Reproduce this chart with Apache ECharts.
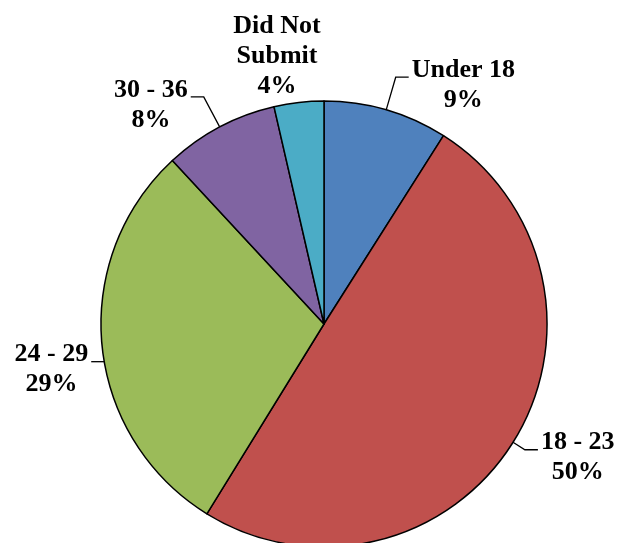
<!DOCTYPE html>
<html>
<head>
<meta charset="utf-8">
<script src="https://cdn.jsdelivr.net/npm/echarts@6/dist/echarts.min.js"></script>
<style>
html, body { margin: 0; padding: 0; background: #fff; }
#main { width: 623px; height: 543px; }
</style>
</head>
<body>
<div id="main"></div>
<script>
// age groups and their shares
var categories = ['Under 18', '18 - 23', '24 - 29', '30 - 36', 'Did Not\nSubmit'];
var values = [9.0, 49.8, 29.3, 8.3, 3.6];
var colors = ['#4F81BD', '#C0504D', '#9BBB59', '#8064A2', '#4BACC6'];

var myChart = echarts.init(document.getElementById('main'));

var CX = 324, CY = 324, R = 223;

// leader line first-segment length per slice (Excel draws them unevenly)
var leadLen = [34, 14, 0, 34, 0];

var data = categories.map(function (c, i) {
    var item = {
        name: c,
        value: values[i],
        itemStyle: { color: colors[i] },
        labelLine: { length: leadLen[i] }
    };
    if (i === 4) {
        item.labelLine = { show: false };
    }
    return item;
});

var option = {
    animation: false,
    series: [{
        type: 'pie',
        center: [CX, CY],
        radius: R,
        startAngle: 90,
        clockwise: true,
        avoidLabelOverlap: false,
        itemStyle: { borderColor: '#000', borderWidth: 1.5 },
        label: {
            show: true,
            position: 'outside',
            formatter: function (p) {
                return p.name + '\n' + Math.round(p.percent) + '%';
            },
            color: '#000',
            fontFamily: '"Liberation Serif", "Times New Roman", serif',
            fontWeight: 'bold',
            fontSize: 26,
            lineHeight: 30
        },
        labelLine: {
            show: true,
            length: 20,
            length2: 13,
            lineStyle: { color: '#000', width: 1.3 }
        },
        // centre the two-line labels next to the end of their leader lines
        labelLayout: function (p) {
            var w = p.labelRect.width, h = p.labelRect.height;
            if (p.dataIndex === 4) {
                return {
                    x: p.rect.x + p.rect.width / 2 - 22,
                    y: p.rect.y - h / 2 + 1,
                    align: 'center',
                    verticalAlign: 'middle'
                };
            }
            var pts = p.labelLinePoints;
            if (p.dataIndex === 2) {
                // the 24 - 29 leader sits a bit lower, flat onto the rim
                var ly = pts[0][1] + 16;
                var ex = CX - Math.sqrt(R * R - (ly - CY) * (ly - CY));
                pts = [[ex, ly], [ex, ly], [ex - 13, ly]];
            }
            var end = pts[pts.length - 1];
            var dir = end[0] >= pts[0][0] ? 1 : -1;
            return {
                x: end[0] + dir * (w / 2 + 3),
                y: end[1] + 8,
                align: 'center',
                verticalAlign: 'middle',
                labelLinePoints: pts
            };
        },
        emphasis: { disabled: true },
        data: data
    }]
};

myChart.setOption(option);
</script>
</body>
</html>
